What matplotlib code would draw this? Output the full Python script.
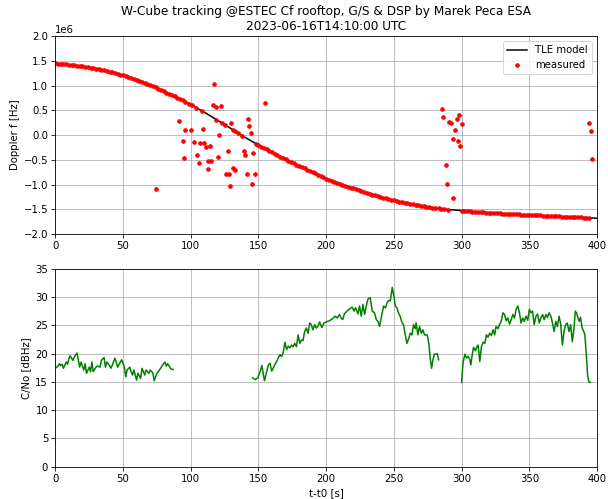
import numpy as np
import matplotlib
matplotlib.use("Agg")
import matplotlib.pyplot as plt

DPI = 73

# TLE model doppler, units of 1e6 Hz
model_t = [0, 10, 20, 30, 40, 50, 60, 70, 80, 90, 100, 110, 120, 130, 140, 150, 160, 170, 180, 190, 200,
           210, 220, 230, 240, 250, 260, 270, 280, 290, 300, 310, 320, 330, 340, 350, 360, 370, 380, 390, 400]
model_f = [1.450, 1.420, 1.385, 1.340, 1.280, 1.205, 1.115, 1.010, 0.885, 0.755, 0.615, 0.460, 0.295, 0.125,
           -0.045, -0.205, -0.350, -0.490, -0.625, -0.750, -0.880, -0.985, -1.080, -1.170, -1.250, -1.320,
           -1.380, -1.430, -1.475, -1.505, -1.525, -1.550, -1.570, -1.587, -1.602, -1.615, -1.628, -1.641,
           -1.655, -1.668, -1.680]

# measured doppler lying on the track (1e6 Hz)
track_t = [0, 2, 4, 6, 8, 10, 12, 14, 16, 18, 20, 22, 24, 26, 28, 30, 32, 34, 36, 38, 40, 42, 44, 46, 48,
           50, 52, 54, 56, 58, 60, 62, 64, 66, 68, 70, 72, 74, 76, 78, 80, 82, 84, 86, 88, 90, 92, 94, 96,
           99, 101, 104, 108, 119, 123, 125, 131, 133, 135, 138,
           148, 150, 152, 154, 156, 158, 160, 162, 164, 166, 168, 170, 172, 174, 176, 178, 180, 182, 184,
           186, 188, 190, 192, 194, 196, 198, 200, 202, 204, 206, 208, 210, 212, 214, 216, 218, 220, 222,
           224, 226, 228, 230, 232, 234, 236, 238, 240, 242, 244, 246, 248, 250, 252, 254, 256, 258, 260,
           262, 264, 266, 268, 270, 272, 274, 276, 278, 280, 283, 285, 287, 290,
           300, 302, 304, 306, 308, 310, 312, 314, 316, 318, 320, 322, 324, 326, 328, 330, 332, 334, 336,
           338, 340, 342, 344, 346, 348, 350, 352, 354, 356, 358, 360, 362, 364, 366, 368, 370, 372, 374,
           376, 378, 380, 382, 384, 386, 388, 390, 392, 394]
track_f = [1.450, 1.444, 1.438, 1.432, 1.426, 1.420, 1.413, 1.406, 1.399, 1.392, 1.385, 1.377, 1.368,
           1.359, 1.350, 1.340, 1.329, 1.317, 1.305, 1.293, 1.280, 1.266, 1.251, 1.236, 1.221, 1.205,
           1.188, 1.171, 1.153, 1.134, 1.115, 1.095, 1.074, 1.053, 1.032, 1.010, 0.986, 0.961, 0.936,
           0.911, 0.885, 0.859, 0.833, 0.807, 0.781, 0.755, 0.727, 0.699, 0.671,
           0.630, 0.600, 0.553, 0.492, 0.312, 0.245, 0.211, 0.108, 0.074, 0.040, -0.011,
           -0.173, -0.205, -0.234, -0.263, -0.292, -0.321, -0.350, -0.378, -0.406, -0.434, -0.462, -0.490,
           -0.517, -0.544, -0.571, -0.598, -0.625, -0.650, -0.675, -0.700, -0.725, -0.750, -0.776, -0.802,
           -0.828, -0.854, -0.880, -0.901, -0.922, -0.943, -0.964, -0.985, -1.004, -1.023, -1.042, -1.061,
           -1.080, -1.098, -1.116, -1.134, -1.152, -1.170, -1.186, -1.202, -1.218, -1.234, -1.250, -1.264,
           -1.278, -1.292, -1.306, -1.320, -1.332, -1.344, -1.356, -1.368, -1.380, -1.390, -1.400, -1.410,
           -1.420, -1.430, -1.439, -1.448, -1.457, -1.466, -1.475, -1.484, -1.490, -1.496, -1.505,
           -1.525, -1.530, -1.535, -1.540, -1.545, -1.550, -1.554, -1.558, -1.562, -1.566, -1.570, -1.573,
           -1.577, -1.580, -1.584, -1.587, -1.590, -1.593, -1.596, -1.599, -1.602, -1.605, -1.607, -1.610,
           -1.612, -1.615, -1.618, -1.620, -1.623, -1.625, -1.628, -1.631, -1.633, -1.636, -1.638, -1.641,
           -1.644, -1.647, -1.650, -1.652, -1.655, -1.658, -1.660, -1.663, -1.665, -1.668, -1.670, -1.673]

# measured outliers
outl_t = [74.5, 91.3, 94.2, 95.2, 95.9, 100.4, 102.1, 104.6, 106.3, 107.0, 109.0, 110.0, 111.2, 112.4, 112.7,
          114.1, 115.1, 116.4, 116.8, 118.3, 120.3, 121.0, 122.0, 126.2, 127.2, 128.4, 128.9, 129.9, 131.1,
          132.8, 139.0, 140.2, 141.5, 141.9, 143.2, 144.4, 145.4, 145.9, 147.1, 155.0,
          285.4, 286.1, 288.1, 289.3, 291.0, 292.5, 293.5, 293.7, 295.2, 296.4, 297.4, 298.2, 299.1, 300.4,
          394.3, 395.6, 396.6]
outl_f = [-1.09, 0.29, -0.12, -0.47, 0.10, 0.10, -0.15, -0.41, -0.57, -0.17, 0.13, -0.17, -0.25, -0.69, -0.52,
          -0.23, -0.53, 0.61, 1.04, 0.56, -0.45, 0.00, 0.59, -0.78, -0.33, -0.78, -1.02, 0.25, -0.67,
          -0.70, -0.33, -0.41, -0.78, 0.33, 0.19, 0.05, -0.99, -0.37, -0.79, 0.65,
          0.52, 0.36, -0.61, -0.98, 0.27, 0.24, -0.08, -1.27, 0.10, 0.33, -0.13, 0.41, -0.23, 0.23,
          0.24, 0.09, -0.49]

# C/No [dBHz], three passes of lock
cn1_t = [0, 2, 3, 4, 5, 6, 8, 9, 10, 11, 13, 14, 16, 17, 18, 19, 21, 22, 23, 25, 26, 27, 28, 30, 31, 33, 34,
         36, 37, 38, 40, 41, 42, 44, 45, 46, 48, 49, 51, 52, 53, 55, 56, 57, 58, 60, 61, 63, 64, 66, 67, 69,
         70, 72, 73, 75, 76, 78, 79, 81, 82, 83, 85, 86, 87]
cn1 = [17.4, 17.8, 18.2, 17.9, 18.1, 17.4, 18.5, 18.1, 19.1, 19.6, 18.8, 19.4, 20.1, 18.8, 17.6, 18.5, 17.1,
       18.2, 16.5, 17.6, 16.8, 18.5, 16.8, 17.6, 17.8, 17.6, 18.8, 19.3, 17.6, 18.5, 17.9, 17.4, 17.9, 19.2,
       18.5, 17.6, 18.5, 18.9, 17.6, 15.9, 17.1, 17.6, 16.8, 16.2, 17.1, 15.3, 16.5, 15.6, 17.4, 16.2, 17.1,
       16.5, 17.1, 16.6, 15.2, 16.5, 16.8, 17.5, 17.9, 18.5, 17.8, 18.2, 17.4, 17.2, 17.2]

cn2_t = [145.6, 147.6, 149.5, 151.2, 152.5, 154.4, 157.3, 158.5, 159.8, 162.2, 163.4, 164.6, 165.9, 167.1,
         168.3, 169.5, 170.8, 172.0, 173.2, 174.4, 175.6, 176.8, 178.0, 179.3, 180.5, 181.7, 182.9, 184.1,
         185.4, 186.6, 187.8, 189.0, 190.2, 191.5, 192.7, 193.9, 195.1, 196.8, 198.3, 200.0, 202.4, 204.9,
         206.6, 208.0, 209.8, 211.0, 212.2, 213.4, 215.4, 217.3, 219.2, 220.5, 221.7, 223.4, 224.6, 225.9,
         227.1, 228.4, 229.6, 230.8, 232.5, 234.0, 235.7, 237.0, 238.2, 239.4, 241.1, 242.4, 243.8, 245.0,
         246.2, 247.3, 248.8, 250.0, 251.0, 252.2, 253.4, 254.6, 256.1, 257.1, 258.4, 259.6, 261.0, 262.1,
         263.3, 264.5, 265.7, 266.4, 267.7, 268.9, 270.2, 271.4, 272.6, 274.6, 275.8, 276.8, 277.8, 278.8,
         280.0, 281.2, 282.0, 283.0]
cn2 = [15.7, 15.4, 15.7, 16.8, 17.9, 15.2, 18.0, 18.3, 16.9, 18.1, 18.6, 19.2, 19.8, 19.5, 20.2, 22.0, 20.7,
       21.3, 21.0, 21.5, 21.2, 21.8, 21.2, 23.3, 21.8, 22.4, 22.3, 23.9, 24.5, 23.6, 25.4, 25.1, 24.2, 25.1,
       24.5, 24.8, 25.6, 24.6, 25.4, 25.6, 25.8, 26.2, 26.6, 26.3, 26.9, 26.3, 26.0, 27.0, 27.5, 27.9, 28.2,
       27.5, 28.1, 27.0, 28.4, 26.6, 28.7, 26.9, 28.4, 29.6, 29.9, 27.5, 27.2, 26.0, 25.7, 24.8, 26.9, 28.4,
       28.1, 29.0, 29.4, 29.3, 31.7, 30.2, 28.4, 28.1, 27.2, 26.6, 25.4, 25.1, 23.3, 21.8, 22.7, 23.6, 23.3,
       25.1, 24.4, 25.4, 23.3, 24.8, 23.6, 24.2, 23.3, 23.3, 21.8, 19.2, 17.4, 18.9, 19.9, 19.9, 20.0, 18.9]

cn3_t = [300.0, 301.0, 302.4, 303.7, 304.9, 306.1, 306.8, 307.8, 308.8, 310.2, 311.2, 312.2, 313.4, 314.6,
         315.9, 317.1, 318.3, 319.5, 320.7, 322.0, 323.2, 324.4, 325.4, 326.8, 328.0, 329.3, 330.5, 331.7,
         332.9, 334.1, 335.4, 336.6, 337.8, 339.0, 340.2, 341.5, 342.7, 343.9, 345.1, 346.3, 347.6, 348.8,
         350.0, 351.2, 352.4, 353.6, 354.9, 356.1, 357.3, 358.5, 359.8, 361.0, 362.2, 363.4, 364.6, 365.9,
         367.1, 368.3, 369.5, 370.7, 372.0, 373.2, 374.4, 375.6, 376.8, 378.0, 379.3, 380.5, 381.7, 382.9,
         383.9, 384.9, 385.9, 386.8, 387.8, 389.0, 390.2, 391.0, 392.0, 393.0, 394.0, 395.0]
cn3 = [14.9, 18.3, 19.9, 19.2, 19.5, 18.9, 18.0, 19.8, 21.1, 20.5, 21.2, 21.5, 18.6, 21.2, 22.0, 21.8, 23.3,
       22.9, 23.6, 23.2, 24.2, 23.3, 24.8, 24.4, 25.1, 25.8, 27.2, 26.9, 25.8, 26.3, 25.2, 26.0, 26.9, 26.3,
       27.8, 28.4, 27.2, 25.4, 26.3, 25.7, 26.6, 25.9, 27.8, 27.2, 27.5, 25.1, 26.6, 27.0, 25.4, 26.3, 26.9,
       26.0, 26.9, 26.4, 27.2, 26.6, 25.4, 23.9, 25.7, 24.8, 26.6, 25.1, 21.5, 23.9, 25.1, 25.4, 23.9, 25.1,
       22.1, 24.2, 27.5, 27.2, 26.3, 25.7, 26.4, 24.5, 23.9, 23.3, 20.0, 16.2, 15.0, 14.9]


def plot_doppler(ax):
    meas_t = np.concatenate([track_t, outl_t])
    meas_f = np.concatenate([track_f, outl_f]) * 1e6
    ax.plot(model_t, np.array(model_f) * 1e6, 'k-', lw=1.5, label='TLE model')
    ax.plot(meas_t, meas_f, 'r.', ms=7, label='measured')
    ax.set_xlim(0, 400)
    ax.set_ylim(-2e6, 2e6)
    ax.set_yticks(np.arange(-2e6, 2.01e6, 0.5e6))
    ax.set_ylabel('Doppler f [Hz]')
    ax.grid(True)
    ax.legend(loc='upper right')
    ax.set_title('W-Cube tracking @ESTEC Cf rooftop, G/S & DSP by Marek Peca ESA\n2023-06-16T14:10:00 UTC')


def plot_cn0(ax):
    for t, c in [(cn1_t, cn1), (cn2_t, cn2), (cn3_t, cn3)]:
        ax.plot(t, c, 'g-')
    ax.set_xlim(0, 400)
    ax.set_ylim(0, 35)
    ax.set_ylabel('C/No [dBHz]')
    ax.set_xlabel('t-t0 [s]')
    ax.grid(True)


def main():
    fig = plt.figure(figsize=(608 / DPI, 499 / DPI), dpi=DPI)
    ax1 = fig.add_axes([0.091, 0.531, 0.891, 0.3968])
    ax2 = fig.add_axes([0.091, 0.0647, 0.891, 0.3968])
    plot_doppler(ax1)
    plot_cn0(ax2)
    fig.savefig('out.png', dpi=DPI)
    print("saved out.png")


if __name__ == "__main__":
    main()
